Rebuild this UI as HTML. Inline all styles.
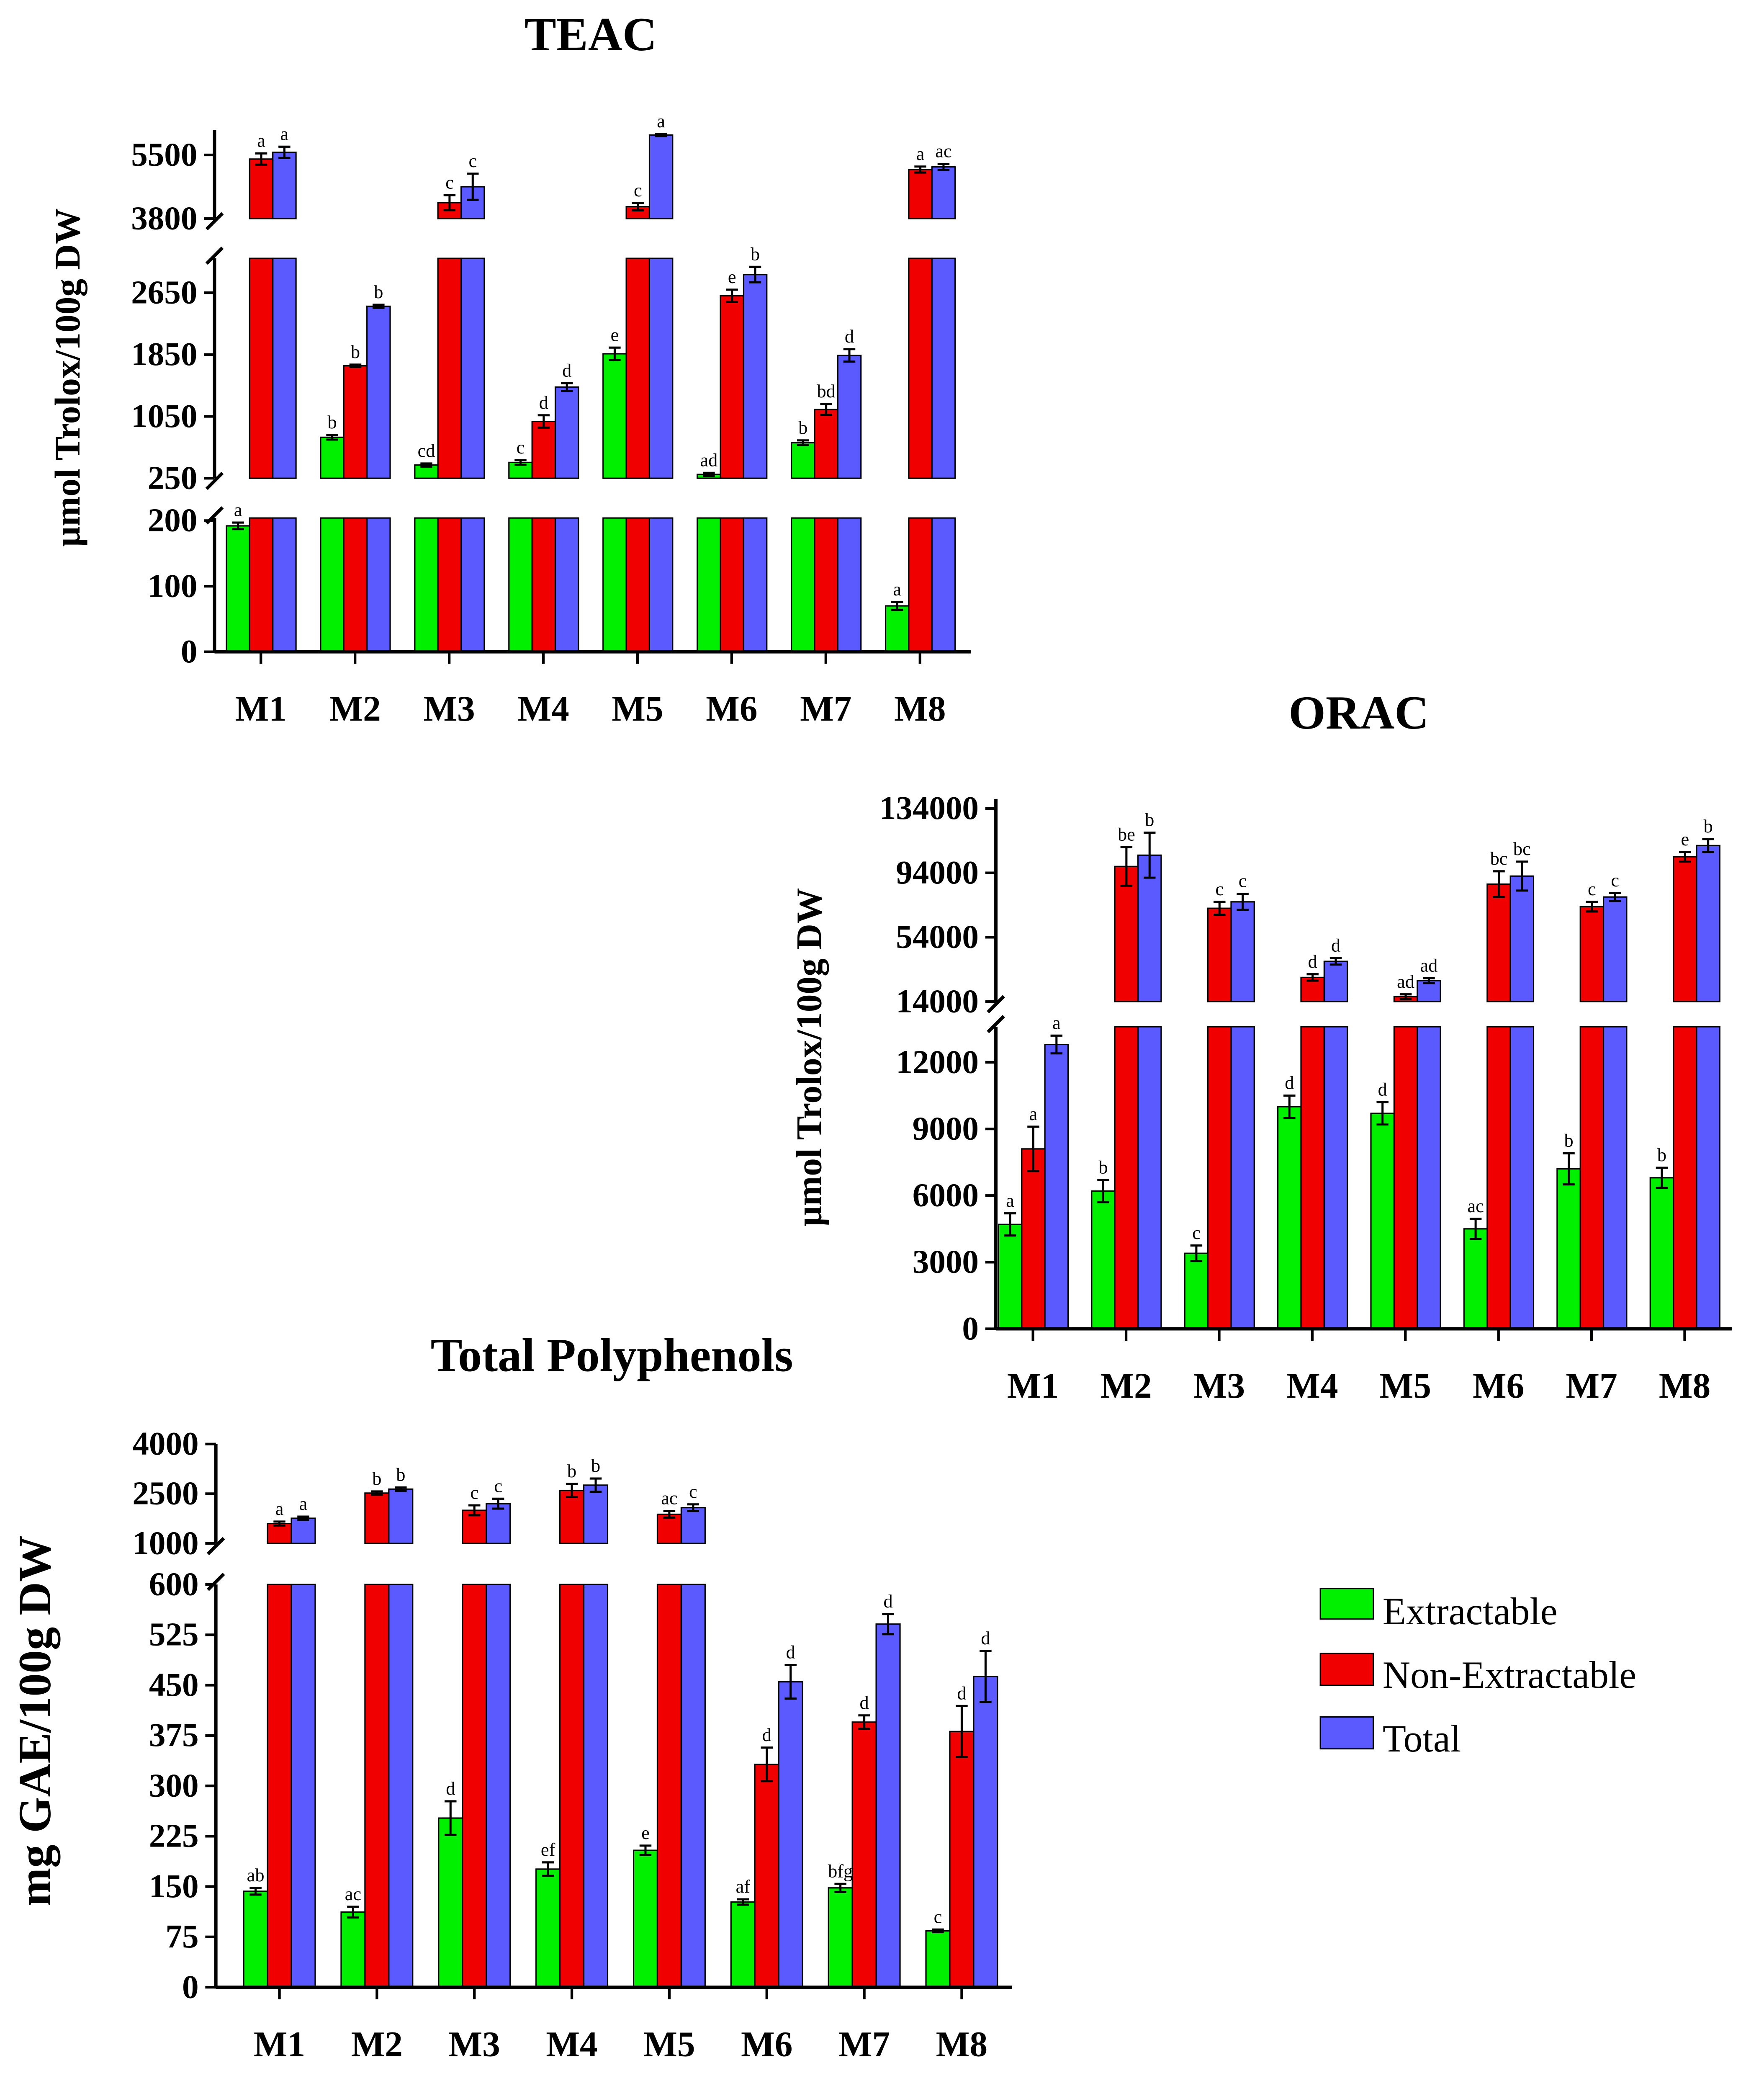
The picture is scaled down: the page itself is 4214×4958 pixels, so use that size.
<!DOCTYPE html>
<html><head><meta charset="utf-8"><style>html,body{margin:0;padding:0;background:#fff}svg{display:block}</style></head>
<body>
<svg id="fig" width="4214" height="4958" viewBox="0 0 1332 1567" preserveAspectRatio="none" xmlns="http://www.w3.org/2000/svg" font-family="'Liberation Serif', serif">
<g id="legend">
 <g><rect x="997" y="1199" width="40" height="23" fill="#00f000" stroke="#000"/><text x="1044" y="1226" font-size="29">Extractable</text></g>
 <g><rect x="997" y="1248" width="40" height="24" fill="#f00000" stroke="#000"/><text x="1044" y="1274" font-size="29">Non-Extractable</text></g>
 <g><rect x="997" y="1296" width="40" height="24" fill="#5a5aff" stroke="#000"/><text x="1044" y="1322" font-size="29">Total</text></g>
</g>
</svg>
<script>
const categories=["M1","M2","M3","M4","M5","M6","M7","M8"];
const teacExt=[192,780,421,455,1860,300,710,70];
const teacNon=[5390,1705,4225,985,4119,2610,1140,5110];
const teacTot=[5570,2475,4650,1430,6030,2885,1840,5180];
const teacExtErr=[5,30,20,30,80,20,30,6];
const teacNonErr=[150,15,200,80,100,80,70,80];
const teacTotErr=[150,20,350,50,30,100,80,80];
const teacExtLet=["a","b","cd","c","e","ad","b","a"];
const teacNonLet=["a","b","c","d","c","e","bd","a"];
const teacTotLet=["a","b","c","d","a","b","d","ac"];
const teacTicks=[0,100,200,250,1050,1850,2650,3800,5500];
const oracExt=[4700,6200,3400,10000,9700,4500,7200,6800];
const oracNon=[8100,98000,72000,29000,17000,87000,73000,104000];
const oracTot=[12800,105000,76000,39000,27000,92000,79000,111000];
const oracExtErr=[500,500,350,500,500,450,700,450];
const oracNonErr=[1000,12000,4000,2000,1500,8000,3000,3000];
const oracTotErr=[400,14000,5000,2000,1500,9000,2500,4000];
const oracExtLet=["a","b","c","d","d","ac","b","b"];
const oracNonLet=["a","be","c","d","ad","bc","c","e"];
const oracTotLet=["a","b","c","d","ad","bc","c","b"];
const oracTicks=[0,3000,6000,9000,12000,14000,54000,94000,134000];
const tpExt=[143,112,252,176,204,127,148,84];
const tpNon=[1600,2520,2000,2600,1880,332,395,381];
const tpTot=[1760,2640,2200,2760,2080,455,541,463];
const tpExtErr=[5,8,25,10,7,4,6,2];
const tpNonErr=[60,50,150,200,100,25,10,38];
const tpTotErr=[50,50,150,200,100,25,15,38];
const tpExtLet=["ab","ac","d","ef","e","af","bfg","c"];
const tpNonLet=["a","b","c","b","ac","d","d","d"];
const tpTotLet=["a","b","c","b","c","d","d","d"];
const tpTicks=[0,75,150,225,300,375,450,525,600,1000,2500,4000];

const NS="http://www.w3.org/2000/svg";
const svg=document.getElementById('fig');
function mk(t,a,p){const e=document.createElementNS(NS,t);for(const k in a)e.setAttribute(k,a[k]);(p||svg).appendChild(e);return e;}
const COLORS=["#00f000","#f00000","#5a5aff"];

function chart(cfg){
 const g=mk('g',{});
 
 
 const segs=cfg.segs;
 function y(v){
  for(const s of segs){ if(v<=s[1]||s===segs[segs.length-1]){ const vv=Math.max(v,s[0]); return s[2]-(vv-s[0])/(s[1]-s[0])*(s[2]-s[3]); } }
 }
 const series=[cfg.ext,cfg.non,cfg.tot], errs=[cfg.extErr,cfg.nonErr,cfg.totErr], lets=[cfg.extLet,cfg.nonLet,cfg.totLet];
 const snames=['extractable','non-extractable','total'];
 categories.forEach((c,i)=>{
  const cx=cfg.x0+i*cfg.dx;
  for(let s=0;s<3;s++){
   const v=series[s][i]; const x=cx+cfg.off+s*cfg.bw;
   segs.forEach(sg=>{
    if(v>sg[0]||sg===segs[0]){
     const top=y(Math.min(v,sg[1])); const bot=sg[2];
     const r=mk('rect',{x:x,y:top,width:cfg.bw,height:Math.max(0,bot-top),fill:COLORS[s],stroke:'#000','stroke-width':1},g);
     
     
    }
   });
   const e=errs[s][i], xm=x+cfg.bw/2, y1=y(v+e), y2=y(v-e);
   mk('line',{x1:xm,x2:xm,y1:y1,y2:y2,stroke:'#000','stroke-width':1.6},g);
   mk('line',{x1:xm-4.5,x2:xm+4.5,y1:y1,y2:y1,stroke:'#000','stroke-width':1.6},g);
   mk('line',{x1:xm-4.5,x2:xm+4.5,y1:y2,y2:y2,stroke:'#000','stroke-width':1.6},g);
   const t=mk('text',{x:xm,y:y1-5,'font-size':14,'text-anchor':'middle'},g); t.textContent=lets[s][i];
   
   
  }
  const cl=mk('text',{x:cx,y:cfg.xAxisY+52,'font-size':27,'font-weight':'bold','text-anchor':'middle'},g); cl.textContent=c;
  
  
  mk('line',{x1:cx,x2:cx,y1:cfg.xAxisY,y2:cfg.xAxisY+9,stroke:'#000','stroke-width':2},g);
 });
 const ax=cfg.axisX;
 segs.forEach((s,k)=>{
  mk('line',{x1:ax,x2:ax,y1:s[2]+(k==0?1:0),y2:s[3],stroke:'#000','stroke-width':2.5},g);
  if(k>0){const yb=segs[k-1][3], yt=s[2];
   mk('line',{x1:ax-6,x2:ax+6,y1:yb+4,y2:yb-8,stroke:'#000','stroke-width':2.5},g);
   mk('line',{x1:ax-6,x2:ax+6,y1:yt+8,y2:yt-4,stroke:'#000','stroke-width':2.5},g);}
 });
 mk('line',{x1:ax,x2:cfg.xEnd,y1:cfg.xAxisY,y2:cfg.xAxisY,stroke:'#000','stroke-width':2.5},g);
 cfg.ticks.forEach(v=>{const yy=y(v);
  mk('line',{x1:ax-8,x2:ax,y1:yy,y2:yy,stroke:'#000','stroke-width':2},g);
  const t=mk('text',{x:ax-13,y:yy+8,'font-size':cfg.tfs,'font-weight':'bold','text-anchor':'end'},g); t.textContent=v;
  
  
 });
 const tt=mk('text',{x:cfg.titleX,y:cfg.titleY,'font-size':36,'font-weight':'bold','text-anchor':'middle'},g); tt.textContent=cfg.title;
 
 
 const yt=mk('text',{x:0,y:0,'font-size':cfg.yfs,'font-weight':'bold','text-anchor':'middle',transform:`translate(${cfg.ytX},${cfg.ytY}) rotate(-90)`},g); yt.textContent=cfg.ytitle;
 
 
}
chart({name:'teac-chart',title:'TEAC',titleX:446,titleY:38,ytitle:'µmol Trolox/100g DW',ytX:60,ytY:285,yfs:27,tfs:25,
 segs:[[0,204,492,391],[250,3095,361,195],[3800,6170,165,98]],axisX:162,xAxisY:492,xEnd:733,x0:197,dx:71.1,off:-26,bw:17.5,
 ext:teacExt,non:teacNon,tot:teacTot,extErr:teacExtErr,nonErr:teacNonErr,totErr:teacTotErr,extLet:teacExtLet,nonLet:teacNonLet,totLet:teacTotLet,ticks:teacTicks});
chart({name:'orac-chart',title:'ORAC',titleX:1026,titleY:550,ytitle:'µmol Trolox/100g DW',ytX:620,ytY:798,yfs:27,tfs:25,
 segs:[[0,13600,1003,775],[14000,140000,756,603]],axisX:752,xAxisY:1003,xEnd:1308,x0:780,dx:70.3,off:-26,bw:17.5,
 ext:oracExt,non:oracNon,tot:oracTot,extErr:oracExtErr,nonErr:oracNonErr,totErr:oracTotErr,extLet:oracExtLet,nonLet:oracNonLet,totLet:oracTotLet,ticks:oracTicks});
chart({name:'total-polyphenols-chart',title:'Total Polyphenols',titleX:462,titleY:1035,ytitle:'mg GAE/100g DW',ytX:38,ytY:1299,yfs:35,tfs:25,
 segs:[[0,600,1500,1196],[1000,4000,1165,1090]],axisX:163,xAxisY:1500,xEnd:764,x0:211,dx:73.6,off:-27,bw:18,
 ext:tpExt,non:tpNon,tot:tpTot,extErr:tpExtErr,nonErr:tpNonErr,totErr:tpTotErr,extLet:tpExtLet,nonLet:tpNonLet,totLet:tpTotLet,ticks:tpTicks});
</script>
</body></html>
